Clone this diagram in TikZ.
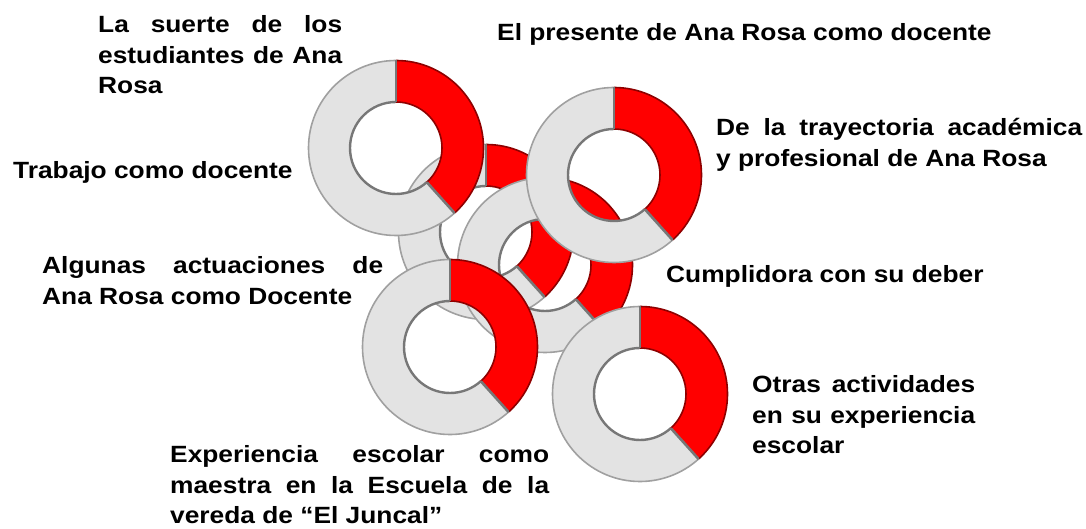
\documentclass[tikz,border=0pt]{standalone}
\usepackage{fontspec}
\setmainfont{Liberation Sans}[FakeStretch=1.12]
\definecolor{ringgrey}{HTML}{E3E3E3}
\definecolor{ringred}{HTML}{FF0000}
\definecolor{edgegrey}{HTML}{777777}
\definecolor{rimgrey}{HTML}{A0A0A0}
\definecolor{edgered}{HTML}{8E0000}
\hbadness=10000

\begin{document}
\begin{tikzpicture}[x=1pt, y=1pt,
  every node/.style={font=\bfseries\fontsize{23.5}{30.5}\selectfont, inner sep=0pt, anchor=base west},
  rimline/.style={draw=rimgrey, line width=1.6pt},
  holeline/.style={draw=edgegrey, line width=2.4pt},
  redline/.style={draw=edgered, line width=1.6pt},
  cutline/.style={draw=edgegrey, line width=2.6pt}]
  \useasboundingbox (0,0) rectangle (1086,529);
  % rings, drawn from back to front
  \foreach \n/\x/\y in {B/486/297, C/545/264, A/396/381, D/614/354, E/450/182, F/640/135}{
    \begin{scope}[shift={(\x,\y)}]
      \coordinate (\n) at (0,0);
      \fill[ringgrey, even odd rule] (0,0) circle (87.5) (0,0) circle (46);
      \fill[ringred] (90:87.5) arc[start angle=90, end angle=-48, radius=87.5]
        -- (-48:46) arc[start angle=-48, end angle=90, radius=46] -- cycle;
      \draw[rimline] (90:87.5) arc[start angle=90, end angle=312, radius=87.5];
      \draw[holeline] (90:46) arc[start angle=90, end angle=312, radius=46];
      \draw[redline] (90:87.5) arc[start angle=90, end angle=-48, radius=87.5];
      \draw[redline] (90:46) arc[start angle=90, end angle=-48, radius=46];
      \draw[cutline] (90:46) -- (90:87.5);
      \draw[cutline] (-48:46) -- (-48:87.5);
    \end{scope}
  }
  % labels
  \node (suerte) at (98,496) {\vtop{\hbox to 244pt{La suerte de los}
    \hbox to 244pt{estudiantes de Ana}\hbox{Rosa}}};
  \node (presente) at (497,488) {El presente de Ana Rosa como docente};
  \node (trayectoria) at (716,393) {\vtop{\hbox to 366pt{De la trayectoria académica}
    \hbox{y profesional de Ana Rosa}}};
  \node (trabajo) at (13,350) {Trabajo como docente};
  \node (actuaciones) at (42,255) {\vtop{\hbox to 341pt{Algunas actuaciones de}
    \hbox{Ana Rosa como Docente}}};
  \node (cumplidora) at (666,246) {Cumplidora con su deber};
  \node (otras) at (752,136) {\vtop{\hbox to 223pt{Otras actividades}
    \hbox to 223pt{en su experiencia}\hbox{escolar}}};
  \node (experiencia) at (170,66) {\vtop{\hbox to 379pt{Experiencia escolar como}
    \hbox to 379pt{maestra en la Escuela de la}\hbox{vereda de “El Juncal”}}};
\end{tikzpicture}
\end{document}
